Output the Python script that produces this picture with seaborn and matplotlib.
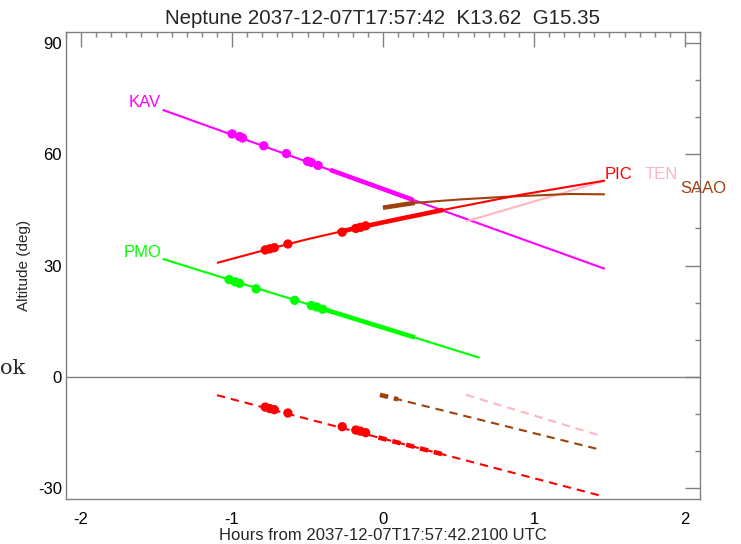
import numpy as np
import pandas as pd
import matplotlib
matplotlib.use("Agg")
import matplotlib.pyplot as plt
from matplotlib.ticker import MultipleLocator
import seaborn as sns

# ---------------- data ----------------
title = "Neptune 2037-12-07T17:57:42  K13.62  G15.35"
xlabel = "Hours from 2037-12-07T17:57:42.2100 UTC"
ylabel = "Altitude (deg)"

kav_x = [-1.46, 1.47]
kav_y = [72.0, 29.1]
kav_thick_x = [-0.35, 0.20]
kav_thick_y = [55.8, 47.7]
kav_mark_x = [-1.00, -0.95, -0.93, -0.79, -0.64, -0.50, -0.475, -0.43]
kav_mark_y = [65.5, 64.8, 64.4, 62.3, 60.2, 58.1, 57.8, 57.0]

pmo_x = [-1.46, 0.64]
pmo_y = [31.8, 5.1]
pmo_thick_x = [-0.40, 0.21]
pmo_thick_y = [18.3, 10.6]
pmo_mark_x = [-1.02, -0.98, -0.95, -0.84, -0.585, -0.475, -0.44, -0.40]
pmo_mark_y = [26.2, 25.6, 25.2, 23.7, 20.6, 19.2, 18.8, 18.2]

pic_x = [-1.10, -0.78, -0.50, -0.20, 0.10, 0.40, 0.90, 1.47]
pic_y = [30.7, 34.2, 37.1, 39.9, 42.5, 45.0, 49.0, 52.9]
pic_thick_x = [-0.30, -0.20, 0.10, 0.40]
pic_thick_y = [39.0, 39.9, 42.5, 45.0]
pic_mark_x = [-0.78, -0.75, -0.72, -0.63, -0.27, -0.18, -0.15, -0.115]
pic_mark_y = [34.2, 34.5, 34.8, 35.8, 39.0, 40.0, 40.3, 40.7]

saao_x = [0.0, 0.21, 0.50, 0.84, 1.24, 1.47]
saao_y = [45.6, 46.9, 47.8, 48.6, 49.3, 49.2]
saao_thick_x = [0.0, 0.21]
saao_thick_y = [45.6, 46.9]

ten_x = [0.55, 1.47]
ten_y = [41.9, 52.9]

# dashed (below horizon) tracks
pic_d_x = [-1.10, 1.45]
pic_d_y = [-5.0, -32.2]
pic_d_thick_x = [-0.03, 0.42]
pic_d_thick_y = [-16.4, -21.2]
pic_d_mark_x = [-0.78, -0.75, -0.72, -0.63, -0.27, -0.18, -0.15, -0.115]
pic_d_mark_y = [-8.2, -8.6, -8.9, -9.8, -13.5, -14.4, -14.7, -15.1]

saao_d_x = [-0.02, 1.44]
saao_d_y = [-4.9, -19.7]
saao_d_thick_x = [-0.02, 0.10]
saao_d_thick_y = [-4.9, -6.1]

ten_d_x = [0.55, 1.455]
ten_d_y = [-4.9, -16.1]

labels = ["KAV", "PMO", "PIC", "TEN", "SAAO"]
label_x = [-1.47, -1.47, 1.47, 1.73, 1.97]
label_y = [73.9, 33.4, 54.5, 54.5, 50.7]

xticks = [-2, -1, 0, 1, 2]
yticks = [-30, 0, 30, 60, 90]

# ---------------- style ----------------
MAG = "#FF00FF"
GRN = "#00FF00"
RED = "#FF0000"
BRN = "#A0410D"
PNK = "#FFB6C1"
label_colors = [MAG, GRN, RED, PNK, BRN]

sns.set_style("white")
plt.rcParams["font.family"] = ["Liberation Sans", "DejaVu Sans"]
plt.rcParams["lines.scale_dashes"] = False
plt.rcParams["axes.unicode_minus"] = False

fig = plt.figure(figsize=(7.41, 5.44), dpi=100)
ax = fig.add_axes([66 / 741, 1 - 499 / 544, (700 - 66) / 741, (499 - 32) / 544])

LW = 1.5
TLW = 3.3
dash = (6.0, 4.3)


def line(x, y, color, lw=LW, dashed=False):
    df = pd.DataFrame({"x": x, "y": y})
    sns.lineplot(data=df, x="x", y="y", ax=ax, color=color, lw=lw,
                 sort=False, estimator=None)
    ln = ax.lines[-1]
    if dashed:
        ln.set_dashes(dash)
    ln.set_solid_capstyle("butt")
    ln.set_dash_capstyle("butt")


def marks(x, y, color):
    df = pd.DataFrame({"x": x, "y": y})
    sns.scatterplot(data=df, x="x", y="y", ax=ax, color=color, s=45,
                    edgecolor="none", zorder=5)


ax.axhline(0, color="#808080", lw=1.0)

line(kav_x, kav_y, MAG)
line(kav_thick_x, kav_thick_y, MAG, lw=TLW)
marks(kav_mark_x, kav_mark_y, MAG)

line(pmo_x, pmo_y, GRN)
line(pmo_thick_x, pmo_thick_y, GRN, lw=TLW)
marks(pmo_mark_x, pmo_mark_y, GRN)

line(ten_x, ten_y, PNK)
line(saao_x, saao_y, BRN)
line(saao_thick_x, saao_thick_y, BRN, lw=TLW)
line(pic_x, pic_y, RED)
line(pic_thick_x, pic_thick_y, RED, lw=TLW)
marks(pic_mark_x, pic_mark_y, RED)

line(ten_d_x, ten_d_y, PNK, dashed=True)
line(saao_d_x, saao_d_y, BRN, dashed=True)
line(saao_d_thick_x, saao_d_thick_y, BRN, lw=TLW, dashed=True)
line(pic_d_x, pic_d_y, RED, dashed=True)
line(pic_d_thick_x, pic_d_thick_y, RED, lw=TLW, dashed=True)
marks(pic_d_mark_x, pic_d_mark_y, RED)

for t, lx, ly, c in zip(labels, label_x, label_y, label_colors):
    ha = "right" if lx < 0 else "left"
    ax.text(lx, ly, t, color=c, fontsize=12, ha=ha, va="center", clip_on=False)

ax.set_xlim(-2.1, 2.1)
ax.set_ylim(-33, 93)
ax.set_xticks(xticks)
ax.set_yticks(yticks)
ax.xaxis.set_minor_locator(MultipleLocator(0.1))
ax.yaxis.set_minor_locator(MultipleLocator(10))
ax.tick_params(which="both", direction="in", top=True, right=True,
               color="#808080", width=1.0, labelsize=12, labelcolor="black")
ax.tick_params(which="major", length=10.8)
ax.tick_params(which="minor", length=3.6)
ax.tick_params(axis="x", which="major", pad=9)
ax.tick_params(axis="y", which="major", pad=3)
for s in ax.spines.values():
    s.set_color("#808080")
    s.set_linewidth(1.0)

ax.set_xlabel(xlabel, fontsize=12, labelpad=1)
ax.set_ylabel(ylabel, fontsize=11, labelpad=5)
ax.set_title(title, fontsize=14.8, pad=6)

fig.text(0.0, 1 - 368 / 544, "ok", family="DejaVu Serif", fontsize=15,
         ha="left", va="center")

fig.savefig("out.png", dpi=100)
